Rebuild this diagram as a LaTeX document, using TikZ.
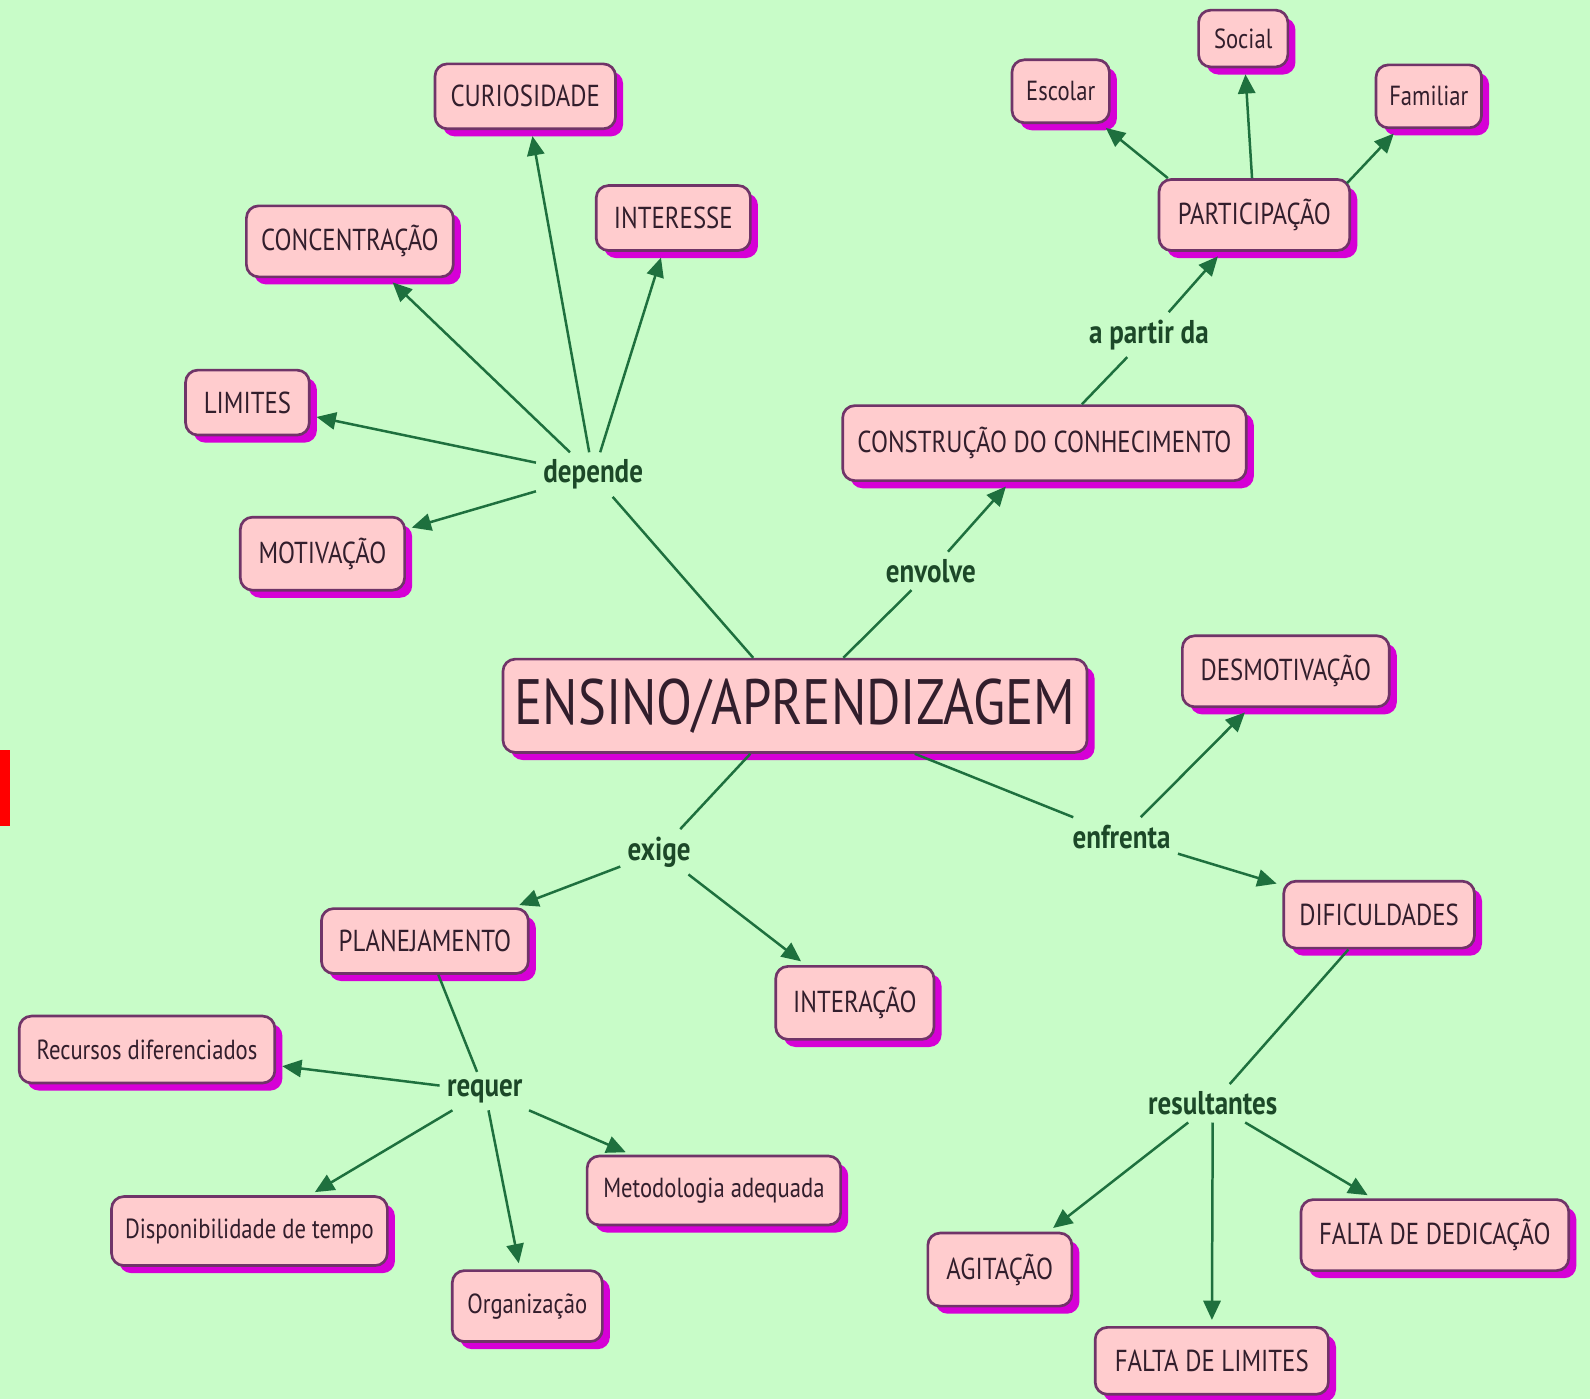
\documentclass[tikz,border=0pt]{standalone}
\usepackage{fontspec}
\setmainfont[FakeStretch=0.82]{PT Sans}
\usepackage{tikz}
\usetikzlibrary{arrows.meta, shadows}
\definecolor{cbg}{RGB}{200,252,200}
\definecolor{cpink}{RGB}{255,204,206}
\definecolor{cborder}{RGB}{112,52,104}
\definecolor{cshadow}{RGB}{214,0,214}
\definecolor{cedge}{RGB}{30,112,62}
\definecolor{clink}{RGB}{28,72,40}
\definecolor{ctext}{RGB}{50,30,44}
\tikzset{
Concept/.style={
	draw=cborder, fill=cpink,
	rounded corners=0.24cm,
	line width=1.5pt,
	text=ctext,
	font=\fontsize{17}{19}\selectfont,
	inner sep=2pt,
	drop shadow={shadow xshift=0.15cm, shadow yshift=-0.15cm, fill=cshadow, opacity=1}
},
SmallConcept/.style={
	Concept,
	font=\fontsize{15.5}{18}\selectfont
},
Size/.style 2 args={
	minimum width=#1*0.02cm,
	minimum height=#2*0.02cm
},
Link/.style={
	text=clink,
	font=\bfseries\fontsize{18.5}{20}\selectfont,
	inner sep=0.14cm
},
Edge/.style={
	draw=cedge,
	line width=1.4pt
},
ArrowEdge/.style={
	Edge,
	-{Triangle[length=0.38cm, width=0.34cm]},
	shorten >=0.12cm
}
}

\begin{document}
\begin{tikzpicture}[x=0.02cm, y=-0.02cm]
	\fill[cbg] (0,0) rectangle (1568,1380);
	\useasboundingbox (0,0) rectangle (1568,1380);
	\fill[red] (0,740) rectangle (10,815);

	\node[Concept, Size={576}{92}, font=\fontsize{36}{40}\selectfont] (EA) at (784,696) {ENSINO/APRENDIZAGEM};

	% depende
	\node[Link] (dep) at (585,468) {depende};
	\node[Concept, Size={178}{64}] (cur) at (518,95) {CURIOSIDADE};
	\node[Concept, Size={152}{64}] (int) at (664,215) {INTERESSE};
	\node[Concept, Size={204}{70}] (con) at (345,238) {CONCENTRAÇÃO};
	\node[Concept, Size={122}{64}] (lim) at (244,397) {LIMITES};
	\node[Concept, Size={162}{72}] (mot) at (318,546) {MOTIVAÇÃO};

	% envolve
	\node[Link] (env) at (918,563) {envolve};
	\node[Concept, Size={398}{74}] (cdc) at (1030,437) {CONSTRUÇÃO DO CONHECIMENTO};
	\node[Link] (apd) at (1133,330) {a partir da};
	\node[Concept, Size={188}{70}] (par) at (1237,212) {PARTICIPAÇÃO};
	\node[SmallConcept, Size={96}{62}] (esc) at (1046,90) {Escolar};
	\node[SmallConcept, Size={88}{56}] (soc) at (1226,38) {Social};
	\node[SmallConcept, Size={104}{62}] (fam) at (1409,95) {Familiar};

	% enfrenta
	\node[Link] (enf) at (1106,825) {enfrenta};
	\node[Concept, Size={204}{70}] (des) at (1268,662) {DESMOTIVAÇÃO};
	\node[Concept, Size={188}{66}] (dif) at (1360,902) {DIFICULDADES};
	\node[Link] (res) at (1196,1088) {resultantes};
	\node[Concept, Size={142}{72}] (agi) at (986,1252) {AGITAÇÃO};
	\node[Concept, Size={230}{66}] (fdl) at (1195,1342) {FALTA DE LIMITES};
	\node[Concept, Size={264}{70}] (fdd) at (1415,1218) {FALTA DE DEDICAÇÃO};

	% exige
	\node[Link] (exi) at (650,840) {exige};
	\node[Concept, Size={204}{64}] (pla) at (419,928) {PLANEJAMENTO};
	\node[Concept, Size={156}{72}] (itr) at (843,989) {INTERAÇÃO};
	\node[Link] (req) at (478,1076) {requer};
	\node[SmallConcept, Size={252}{66}] (rec) at (145,1035) {Recursos diferenciados};
	\node[SmallConcept, Size={272}{68}] (dis) at (246,1214) {Disponibilidade de tempo};
	\node[SmallConcept, Size={148}{70}] (org) at (520,1288) {Organização};
	\node[SmallConcept, Size={250}{68}] (met) at (704,1174) {Metodologia adequada};

	\draw[Edge] (EA) -- (dep);
	\draw[ArrowEdge] (dep) -- (cur);
	\draw[ArrowEdge] (dep) -- (int);
	\draw[ArrowEdge] (dep) -- (con);
	\draw[ArrowEdge] (dep) -- (lim);
	\draw[ArrowEdge] (dep) -- (mot);

	\draw[Edge] (EA) -- (env);
	\draw[ArrowEdge] (env) -- (cdc);
	\draw[Edge] (cdc) -- (apd);
	\draw[ArrowEdge] (apd) -- (par);
	\draw[ArrowEdge] ([xshift=0.2cm]par.north west) -- (esc);
	\draw[ArrowEdge] (par) -- (soc);
	\draw[ArrowEdge] ([xshift=-0.08cm, yshift=-0.1cm]par.north east) -- (fam);

	\draw[Edge] (EA) -- (enf);
	\draw[ArrowEdge] (enf) -- (des);
	\draw[ArrowEdge] (enf) -- (dif);
	\draw[Edge] (dif) -- (res);
	\draw[ArrowEdge] (res) -- (agi);
	\draw[ArrowEdge] (res) -- (fdl);
	\draw[ArrowEdge] (res) -- (fdd);

	\draw[Edge] (EA) -- (exi);
	\draw[ArrowEdge] (exi) -- (pla);
	\draw[ArrowEdge] (exi) -- (itr);
	\draw[Edge] (pla) -- (req);
	\draw[ArrowEdge] (req) -- (rec);
	\draw[ArrowEdge] (req) -- (dis);
	\draw[ArrowEdge] (req) -- (org);
	\draw[ArrowEdge] (req) -- (met);
\end{tikzpicture}
\end{document}
